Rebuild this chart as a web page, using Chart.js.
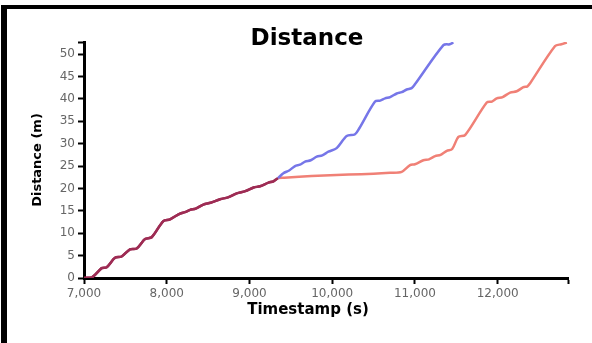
<!DOCTYPE html>
<html>
<head>
<meta charset="utf-8">
<title>Distance</title>
<script src="https://cdn.jsdelivr.net/npm/chart.js@4/dist/chart.umd.min.js"></script>
<style>
    body { margin: 0; background: #fff; }
    #frame {
        position: absolute;
        left: 1px;
        top: 5px;
        width: 585px;
        height: 334px;
        border-top: 4px solid #000;
        border-left: 6px solid #000;
        background: #fff;
    }
    canvas { display: block; }
</style>
</head>
<body>
<div id="frame">
    <canvas id="distanceChart" width="585" height="334"></canvas>
</div>
<script>
// Shared start of both runs (seconds, metres)
const sharedTime = [7000, 7100, 7214, 7274, 7375, 7455, 7556, 7637, 7738, 7818, 7959, 8040, 8161, 8220, 8282, 8350, 8443, 8530, 8644, 8740, 8846, 8950, 9050, 9128, 9230, 9290, 9345];
const sharedDist = [0, 0.2, 2.2, 2.4, 4.5, 4.8, 6.4, 6.6, 8.7, 9.1, 12.7, 13.1, 14.4, 14.7, 15.2, 15.5, 16.4, 16.8, 17.6, 18.0, 18.9, 19.4, 20.2, 20.5, 21.3, 21.6, 22.3];

// Blue run, after the split
const blueTime = [9410, 9480, 9551, 9610, 9672, 9740, 9813, 9880, 9954, 10054, 10175, 10276, 10330, 10518, 10580, 10639, 10700, 10780, 10840, 10901, 10960, 11002, 11344, 11420, 11465];
const blueDist = [23.4, 24.0, 25.0, 25.3, 26.0, 26.3, 27.1, 27.4, 28.2, 29.0, 31.7, 32.1, 33.5, 39.4, 39.6, 40.1, 40.4, 41.2, 41.5, 42.1, 42.4, 43.3, 52.0, 52.2, 52.6];

// Red run, after the split
const redTime = [9420, 9600, 9900, 10200, 10500, 10700, 10840, 10941, 11000, 11102, 11170, 11244, 11310, 11385, 11450, 11525, 11606, 11868, 11930, 11989, 12060, 12150, 12230, 12311, 12360, 12392, 12694, 12770, 12836];
const redDist = [22.4, 22.6, 22.9, 23.1, 23.3, 23.5, 23.7, 25.2, 25.4, 26.3, 26.5, 27.2, 27.5, 28.4, 28.8, 31.5, 31.9, 39.2, 39.4, 40.1, 40.4, 41.4, 41.7, 42.6, 42.8, 43.5, 51.8, 52.2, 52.6];

// Axis ticks
const xTicks = [7000, 8000, 9000, 10000, 11000, 12000];
const yTicks = [0, 5, 10, 15, 20, 25, 30, 35, 40, 45, 50];
const xMin = 7000, xMax = 12850;
const yMin = 0, yMax = 52.7;

const BLUE = 'rgb(118, 118, 232)';
const RED = 'rgb(240, 128, 118)';
const SHARED = 'rgb(158, 44, 84)';

function toPoints(times, dists) {
    return times.map((t, i) => ({ x: t, y: dists[i] }));
}

function buildSeries(label, color, times, dists) {
    return {
        label: label,
        data: toPoints(sharedTime.concat(times), sharedDist.concat(dists)),
        borderColor: color,
        borderWidth: 2.5,
        pointRadius: 0,
        tension: 0.3,
        fill: false,
        segment: {
            // common part of both runs is drawn darker
            borderColor: ctx => ctx.p1DataIndex < sharedTime.length ? SHARED : undefined
        }
    };
}

// Bound ticks give the little end caps on the axes
function fixedTicks(values, bound) {
    return scale => {
        scale.ticks = values.concat([bound]).map(v => ({ value: v }));
    };
}

// Titles sit a bit left of the plot centre, so draw them by hand
const textLabels = {
    id: 'textLabels',
    afterDraw(chart) {
        const ctx = chart.ctx;
        ctx.save();
        ctx.fillStyle = '#000';
        ctx.textAlign = 'center';
        ctx.textBaseline = 'alphabetic';
        ctx.font = 'bold 23px "DejaVu Sans"';
        ctx.fillText('Distance', 300, 36);
        ctx.font = 'bold 15px "DejaVu Sans"';
        ctx.fillText('Timestamp (s)', 301, 305);
        ctx.restore();
    }
};

document.addEventListener('DOMContentLoaded', () => {
    const ctx = document.getElementById('distanceChart').getContext('2d');
    new Chart(ctx, {
        type: 'line',
        data: {
            datasets: [
                buildSeries('Run 1', BLUE, blueTime, blueDist),
                buildSeries('Run 2', RED, redTime, redDist)
            ]
        },
        plugins: [textLabels],
        options: {
            responsive: false,
            animation: false,
            layout: {
                padding: { left: 19, right: 24, top: 33, bottom: 0 }
            },
            plugins: {
                legend: { display: false },
                tooltip: { enabled: false }
            },
            scales: {
                x: {
                    type: 'linear',
                    min: xMin,
                    max: xMax,
                    afterBuildTicks: fixedTicks(xTicks, xMax),
                    afterFit: scale => { scale.height = 65; },
                    border: { display: true, color: '#000', width: 3 },
                    grid: {
                        drawOnChartArea: false,
                        drawTicks: true,
                        tickLength: 6,
                        tickWidth: 2,
                        tickColor: '#000'
                    },
                    ticks: {
                        autoSkip: false,
                        maxRotation: 0,
                        padding: 3,
                        color: '#666',
                        font: { family: 'DejaVu Sans', size: 12 },
                        callback: v => xTicks.includes(v) ? v.toLocaleString('en-US') : ''
                    }
                },
                y: {
                    type: 'linear',
                    min: yMin,
                    max: yMax,
                    afterBuildTicks: fixedTicks(yTicks, yMax),
                    afterFit: scale => { scale.width = 58; },
                    border: { display: true, color: '#000', width: 3 },
                    grid: {
                        drawOnChartArea: false,
                        drawTicks: true,
                        tickLength: 6,
                        tickWidth: 2,
                        tickColor: '#000'
                    },
                    ticks: {
                        autoSkip: false,
                        padding: 3,
                        color: '#666',
                        font: { family: 'DejaVu Sans', size: 12 },
                        callback: v => yTicks.includes(v) ? v : ''
                    },
                    title: {
                        display: true,
                        text: 'Distance (m)',
                        color: '#000',
                        padding: { top: 4, bottom: 4 },
                        font: { family: 'DejaVu Sans', size: 13, weight: 'bold' }
                    }
                }
            }
        }
    });
});
</script>
</body>
</html>
